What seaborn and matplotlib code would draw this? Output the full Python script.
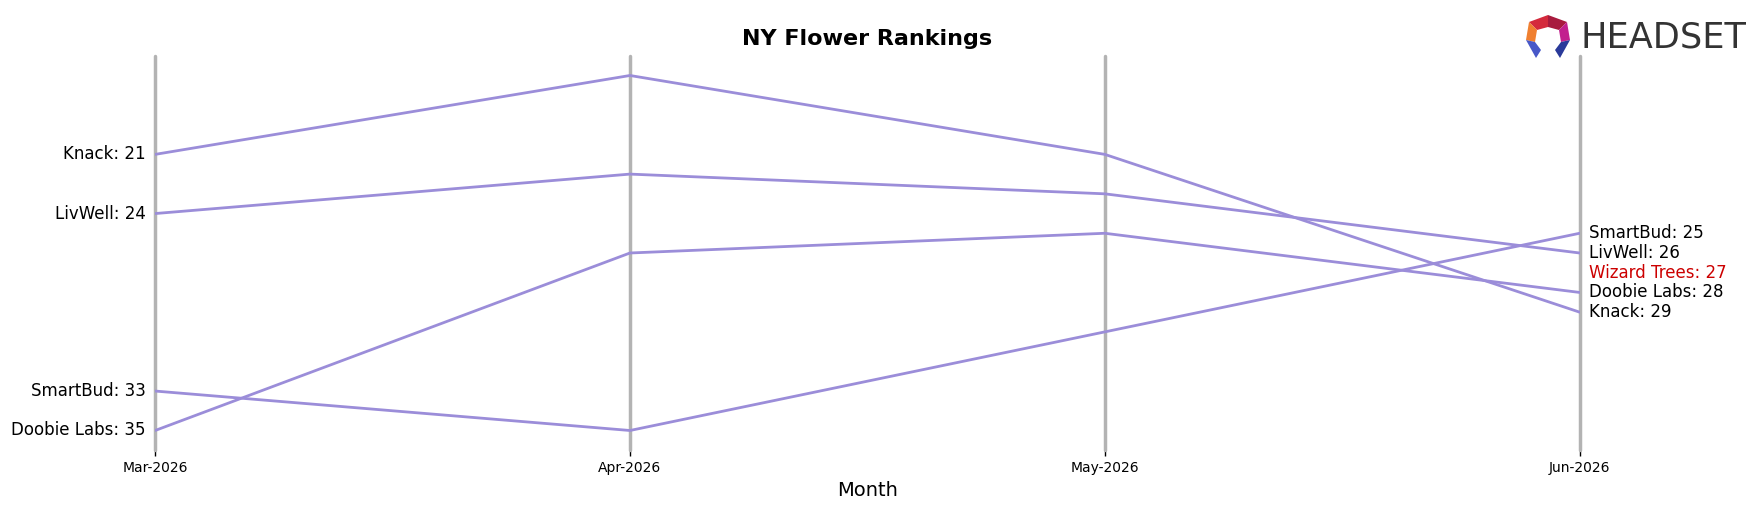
import numpy as np
import pandas as pd
import matplotlib
matplotlib.use("Agg")
import matplotlib.pyplot as plt
import seaborn as sns
from matplotlib.patches import Polygon

months = ["Mar-2026", "Apr-2026", "May-2026", "Jun-2026"]
brands = ["Knack", "LivWell", "SmartBud", "Doobie Labs"]
knack = [21, 17, 21, 29]
livwell = [24, 22, 23, 26]
smartbud = [33, 35, 30, 25]
doobie = [35, 26, 25, 28]
highlight_brand = "Wizard Trees"
highlight_rank = 27

series = {"Knack": knack, "LivWell": livwell, "SmartBud": smartbud, "Doobie Labs": doobie}
rows = []
for b in brands:
    for i, m in enumerate(months):
        rows.append({"brand": b, "month_idx": i, "rank": series[b][i]})
df = pd.DataFrame(rows)

sns.set_style("white")
plt.rcParams['font.family'] = ['DejaVu Sans']
plt.rcParams['text.color'] = 'black'
plt.rcParams['axes.labelcolor'] = 'black'
plt.rcParams['xtick.color'] = 'black'

fig = plt.figure(figsize=(17.63, 5.07), dpi=100)
ax = fig.add_axes([0.088, 0.112, 0.808, 0.778])

line_color = "#9b8dd9"
for i in range(len(months)):
    ax.axvline(i, color="#b3b3b3", lw=2.5, zorder=1, clip_on=False)

sns.lineplot(data=df, x="month_idx", y="rank", units="brand", estimator=None,
             color=line_color, lw=2, ax=ax, zorder=3)

ax.set_xlim(0, len(months) - 1)
ax.set_ylim(36, 16)
ax.set_xticks(range(len(months)))
ax.set_xticklabels(months, fontsize=10)
ax.tick_params(axis="x", length=4, width=1, color="black", pad=4, bottom=True, labelcolor="black")
ax.set_yticks([])
ax.set_ylabel("")
ax.set_xlabel("Month", fontsize=14, color="black")
for s in ax.spines.values():
    s.set_visible(False)
ax.set_title("NY Flower Rankings", fontsize=16, fontweight="bold", pad=8, color="black")

# left labels
for b in brands:
    ax.text(-0.02, series[b][0], f"{b}: {series[b][0]}", ha="right", va="center", fontsize=12, color="black")
# right labels
right = [(b, series[b][-1], "black") for b in brands] + [(highlight_brand, highlight_rank, "#cc0000")]
for b, r, c in right:
    ax.text(len(months) - 1 + 0.02, r, f"{b}: {r}", ha="left", va="center", fontsize=12, color=c)

# logo
def fx(px):
    return px / 1763.0
def fy(py):
    return 1 - py / 507.0
polys = [
    ([(1529, 22), (1548, 15), (1548, 27), (1537, 30)], "#d42a3c"),
    ([(1548, 15), (1567, 22), (1559, 30), (1548, 27)], "#a81b3e"),
    ([(1529, 22), (1537, 30), (1535, 42), (1526, 40)], "#f08030"),
    ([(1567, 22), (1570, 40), (1561, 42), (1559, 30)], "#c2208e"),
    ([(1526, 40), (1535, 42), (1541, 50), (1536, 58)], "#4858c8"),
    ([(1570, 40), (1561, 42), (1555, 50), (1560, 58)], "#2a3a9a"),
]
for pts, col in polys:
    fig.patches.append(Polygon([(fx(x), fy(y)) for x, y in pts], closed=True,
                               transform=fig.transFigure, facecolor=col, edgecolor="none"))
logo = fig.text(fx(1580), fy(38), "HEADSET", fontsize=30, color="#333333", ha="left", va="center",
                family=["Liberation Sans Narrow", "DejaVu Sans"])
fig.canvas.draw()
w = logo.get_window_extent().width
target = 166.0
if w > 0:
    logo.set_fontsize(30 * target / w)

fig.savefig("out.png", dpi=100)
